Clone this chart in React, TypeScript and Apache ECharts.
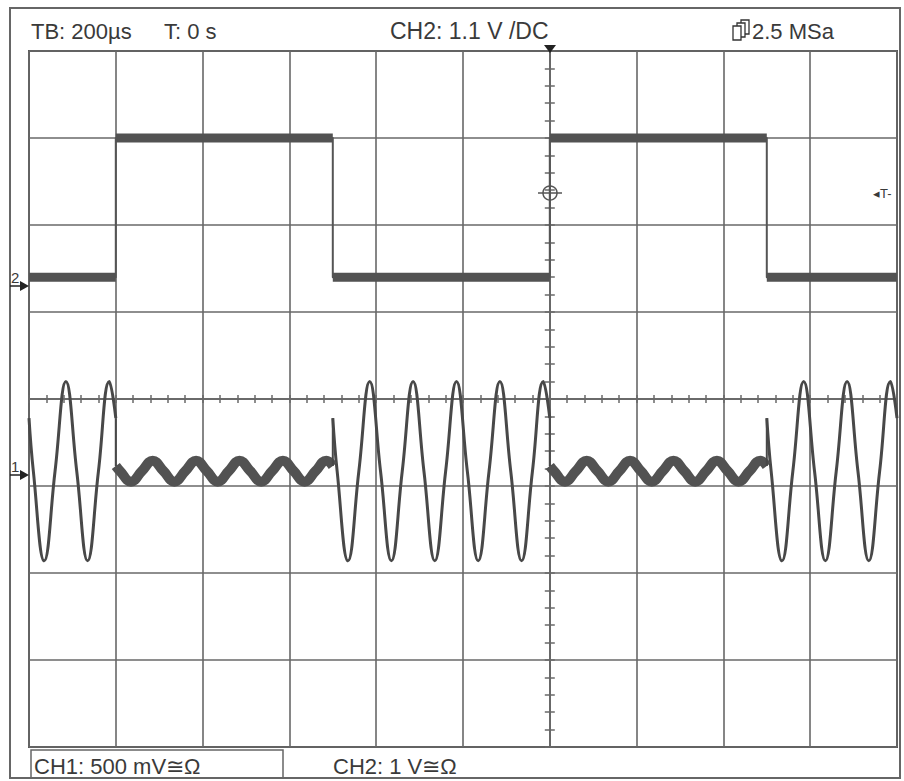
import React, { useEffect, useRef } from "react";
import * as echarts from "echarts";

// time axis in µs (200 µs / div), trigger at 0; vertical axis in screen divisions
const xMin = -1200;
const xMax = 800;
const xStep = 200;
const yMin = -4;
const yMax = 4;

// CH2 square wave
const ch2EdgeTimes = [-1000, -500, 0, 500];
const ch2SegLevels = [1.4, 3.0, 1.4, 3.0, 1.4];

// CH1 burst segments [time µs, divisions]
const ch1Burst1 = [
  [-1200, -0.22], [-1190, -0.83], [-1165, -1.86], [-1140, -0.83], [-1115, 0.2],
  [-1090, -0.83], [-1065, -1.86], [-1040, -0.83], [-1015, 0.2], [-1000, -0.22],
];
const ch1Quiet1 = [
  [-1000, -0.77], [-990, -0.83], [-965, -0.95], [-940, -0.83], [-915, -0.71],
  [-890, -0.83], [-865, -0.95], [-840, -0.83], [-815, -0.71], [-790, -0.83],
  [-765, -0.95], [-740, -0.83], [-715, -0.71], [-690, -0.83], [-665, -0.95],
  [-640, -0.83], [-615, -0.71], [-590, -0.83], [-565, -0.95], [-540, -0.83],
  [-515, -0.71], [-500, -0.77],
];
const ch1Burst2 = [
  [-500, -0.22], [-490, -0.83], [-465, -1.86], [-440, -0.83], [-415, 0.2],
  [-390, -0.83], [-365, -1.86], [-340, -0.83], [-315, 0.2], [-290, -0.83],
  [-265, -1.86], [-240, -0.83], [-215, 0.2], [-190, -0.83], [-165, -1.86],
  [-140, -0.83], [-115, 0.2], [-90, -0.83], [-65, -1.86], [-40, -0.83],
  [-15, 0.2], [0, -0.22],
];
const ch1Quiet2 = [
  [0, -0.77], [10, -0.83], [35, -0.95], [60, -0.83], [85, -0.71],
  [110, -0.83], [135, -0.95], [160, -0.83], [185, -0.71], [210, -0.83],
  [235, -0.95], [260, -0.83], [285, -0.71], [310, -0.83], [335, -0.95],
  [360, -0.83], [385, -0.71], [410, -0.83], [435, -0.95], [460, -0.83],
  [485, -0.71], [500, -0.77],
];
const ch1Burst3 = [
  [500, -0.22], [510, -0.83], [535, -1.86], [560, -0.83], [585, 0.2],
  [610, -0.83], [635, -1.86], [660, -0.83], [685, 0.2], [710, -0.83],
  [735, -1.86], [760, -0.83], [785, 0.2], [800, -0.22],
];

// labels
const topLeftLabel = "TB: 200µs";
const topTimeLabel = "T: 0 s";
const topMidLabel = "CH2: 1.1 V /DC";
const topRightLabel = "2.5 MSa";
const bottomCh1Label = "CH1: 500 mV≅Ω";
const bottomCh2Label = "CH2: 1 V≅Ω";

const FONT = "'Liberation Sans', Arial, sans-serif";
const TEXT_C = "#3a3a3a";
const GRID_C = "#686868";
const TRACE_C = "#484848";

export default function App() {
  const ref = useRef<HTMLDivElement>(null);
  useEffect(() => {
    if (!ref.current) return;
    const chart = echarts.init(ref.current, null, { renderer: "svg" });

    const allT = [xMin, ...ch2EdgeTimes, xMax];
    const ch2Path: any[] = [];
    const ch2Bands: any[] = [];
    for (let i = 0; i < ch2SegLevels.length; i++) {
      ch2Path.push([allT[i], ch2SegLevels[i]], [allT[i + 1], ch2SegLevels[i]]);
      ch2Bands.push([allT[i], ch2SegLevels[i]], [allT[i + 1], ch2SegLevels[i]], [allT[i + 1], "-"]);
    }
    const jumps: any[] = [];
    const bursts = [ch1Burst1, ch1Burst2, ch1Burst3];
    const quiets = [ch1Quiet1, ch1Quiet2];
    const segs = [ch1Burst1, ch1Quiet1, ch1Burst2, ch1Quiet2, ch1Burst3];
    for (let i = 0; i < segs.length - 1; i++) {
      const a = segs[i][segs[i].length - 1];
      const b = segs[i + 1][0];
      jumps.push(a, b, [b[0], "-"]);
    }

    const axisTickStyle = { color: GRID_C, width: 1.5 };
    const baseX = {
      type: "value",
      min: xMin,
      max: xMax,
      interval: xStep,
      axisLabel: { show: false },
      axisLine: { show: true, onZero: true, lineStyle: { color: GRID_C, width: 1.6 } },
      axisTick: { show: true, length: 4, lineStyle: axisTickStyle },
      minorTick: { show: true, splitNumber: 5, length: 4, lineStyle: axisTickStyle },
    };
    const baseY = {
      type: "value",
      min: yMin,
      max: yMax,
      interval: 1,
      axisLabel: { show: false },
      axisLine: { show: true, onZero: true, lineStyle: { color: GRID_C, width: 1.6 } },
      axisTick: { show: true, length: 5, lineStyle: axisTickStyle },
      minorTick: { show: true, splitNumber: 5, length: 5, lineStyle: axisTickStyle },
    };

    const lineSeries = (data: any[], width: number, smooth: boolean | number, color = TRACE_C) => ({
      type: "line",
      data,
      showSymbol: false,
      symbol: "none",
      smooth,
      connectNulls: false,
      silent: true,
      lineStyle: { color, width, cap: "butt", join: "round" },
      z: 5,
    });

    const txt = (x: number, y: number, text: string, size: number, extra: any = {}) => ({
      type: "text",
      x,
      y,
      style: { text, font: `${size}px ${FONT}`, fill: TEXT_C, textVerticalAlign: "middle", ...extra },
      z: 10,
    });

    const option: any = {
      animation: false,
      backgroundColor: "#ffffff",
      grid: {
        left: 29, top: 51, width: 868, height: 696,
        show: true, borderColor: "#555", borderWidth: 2, backgroundColor: "transparent",
      },
      xAxis: [
        { ...baseX, position: "bottom", splitLine: { show: true, lineStyle: { color: GRID_C, width: 1.6 } } },
        { ...baseX, position: "top", splitLine: { show: false } },
      ],
      yAxis: [
        { ...baseY, position: "left", splitLine: { show: true, lineStyle: { color: GRID_C, width: 1.6 } } },
        { ...baseY, position: "right", splitLine: { show: false } },
      ],
      series: [
        lineSeries(ch2Path, 2, false, "#555"),
        lineSeries(ch2Bands, 9, false, "#525252"),
        ...bursts.map((d) => lineSeries(d, 3, 0.45)),
        ...quiets.map((d) => lineSeries(d, 10, 0.45, "#525252")),
        lineSeries(jumps, 2, false),
      ],
      graphic: [
        { type: "rect", shape: { x: 10, y: 8, width: 890, height: 770 }, style: { fill: "none", stroke: "#666", lineWidth: 2 }, z: 10 },
        { type: "rect", shape: { x: 31, y: 750, width: 252, height: 28 }, style: { fill: "none", stroke: "#666", lineWidth: 1.5 }, z: 10 },
        txt(31, 31, topLeftLabel, 22),
        txt(164, 31, topTimeLabel, 22),
        txt(390, 31, topMidLabel, 23),
        txt(752, 31, topRightLabel, 22),
        { type: "rect", shape: { x: 741, y: 20, width: 8, height: 14 }, style: { fill: "#fff", stroke: "#333", lineWidth: 1.3 }, z: 10 },
        { type: "rect", shape: { x: 737, y: 23, width: 8, height: 14 }, style: { fill: "#fff", stroke: "#333", lineWidth: 1.3 }, z: 11 },
        { type: "rect", shape: { x: 733, y: 26, width: 8, height: 14 }, style: { fill: "#fff", stroke: "#333", lineWidth: 1.3 }, z: 12 },
        txt(34, 766, bottomCh1Label, 22),
        txt(333, 766, bottomCh2Label, 22),
        txt(11, 277, "2", 15),
        { type: "line", shape: { x1: 10, y1: 286, x2: 22, y2: 286 }, style: { stroke: "#222", lineWidth: 1.5 }, z: 10 },
        { type: "polygon", shape: { points: [[20, 281], [29, 286], [20, 291]] }, style: { fill: "#222" }, z: 10 },
        txt(11, 466, "1", 15),
        { type: "line", shape: { x1: 10, y1: 475, x2: 22, y2: 475 }, style: { stroke: "#222", lineWidth: 1.5 }, z: 10 },
        { type: "polygon", shape: { points: [[20, 470], [29, 475], [20, 480]] }, style: { fill: "#222" }, z: 10 },
        { type: "polygon", shape: { points: [[544, 45], [556, 45], [550, 53]] }, style: { fill: "#222" }, z: 10 },
        { type: "circle", shape: { cx: 550, cy: 193, r: 7 }, style: { fill: "none", stroke: "#555", lineWidth: 1.5 }, z: 10 },
        { type: "line", shape: { x1: 538, y1: 193, x2: 562, y2: 193 }, style: { stroke: "#555", lineWidth: 1.5 }, z: 10 },
        txt(873, 193, "◂T-", 13),
      ],
    };
    chart.setOption(option);
    return () => chart.dispose();
  }, []);
  return (
    <div
      ref={ref}
      style={{ position: "absolute", left: 0, top: 0, width: 904, height: 781, background: "#fff" }}
    />
  );
}
